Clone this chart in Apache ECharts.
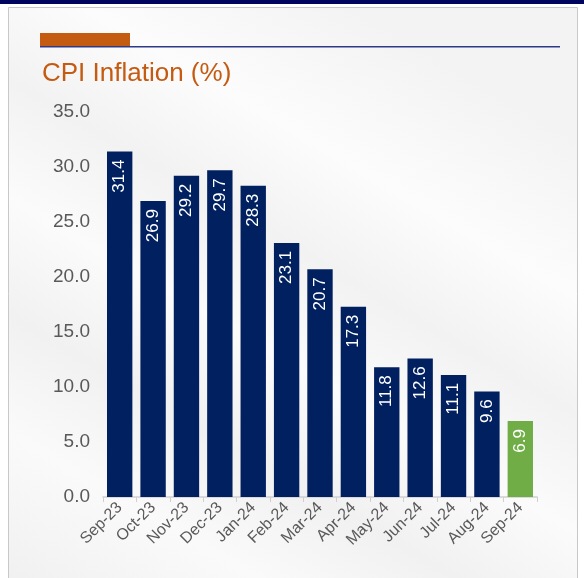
<!DOCTYPE html>
<html>
<head>
<meta charset="utf-8">
<script src="https://cdn.jsdelivr.net/npm/echarts@6/dist/echarts.min.js"></script>
<style>
  html, body { margin: 0; padding: 0; background: #fff; }
  #chart { width: 584px; height: 578px; }
</style>
</head>
<body>
<div id="chart"></div>
<script>
const months = ["Sep-23", "Oct-23", "Nov-23", "Dec-23", "Jan-24", "Feb-24", "Mar-24",
  "Apr-24", "May-24", "Jun-24", "Jul-24", "Aug-24", "Sep-24"];
const cpi = [31.4, 26.9, 29.2, 29.7, 28.3, 23.1, 20.7, 17.3, 11.8, 12.6, 11.1, 9.6, 6.9];
const yTicks = [0, 5, 10, 15, 20, 25, 30, 35];

const chart = echarts.init(document.getElementById("chart"));
const font = "Liberation Sans, Arial, sans-serif";

const option = {
  animation: false,
  backgroundColor: "#ffffff",
  graphic: [
    {
      type: "rect", z: -10, silent: true,
      shape: { x: 8.5, y: 7.5, width: 569, height: 580 },
      style: {
        fill: {
          type: "linear", x: 0, y: 1, x2: 0.6, y2: 0,
          colorStops: [
            { offset: 0, color: "#f0f0f0" },
            { offset: 0.2, color: "#fafafa" },
            { offset: 0.35, color: "#f1f1f1" },
            { offset: 0.5, color: "#fbfbfb" },
            { offset: 0.65, color: "#f2f2f2" },
            { offset: 0.8, color: "#fcfcfc" },
            { offset: 1, color: "#f3f3f3" }
          ]
        },
        stroke: "#c8c8c8", lineWidth: 1
      }
    },
    { type: "rect", silent: true, shape: { x: 0, y: 0, width: 584, height: 4 }, style: { fill: "#00045e" } },
    { type: "rect", silent: true, shape: { x: 40, y: 33, width: 90, height: 13 }, style: { fill: "#c55a11" } },
    { type: "rect", silent: true, shape: { x: 40, y: 46, width: 520, height: 1.5 }, style: { fill: "#2e3a87" } }
  ],
  title: {
    text: "CPI Inflation (%)",
    left: 37, top: 56,
    textStyle: { color: "#c55a11", fontFamily: font, fontSize: 26, fontWeight: "normal" }
  },
  grid: { left: 103, right: 47, top: 112, bottom: 81 },
  xAxis: {
    type: "category",
    data: months,
    axisLine: { lineStyle: { color: "#d0d0d0", width: 1.5 } },
    axisTick: { show: true, length: 5, lineStyle: { color: "#d0d0d0" } },
    axisLabel: { rotate: 45, color: "#595959", fontFamily: font, fontSize: 16, interval: 0, margin: 8 }
  },
  yAxis: {
    type: "value",
    min: yTicks[0], max: yTicks[yTicks.length - 1], interval: 5,
    axisLine: { show: false },
    axisTick: { show: false },
    splitLine: { show: false },
    axisLabel: {
      color: "#595959", fontFamily: font, fontSize: 19, margin: 13,
      formatter: function (v) { return v.toFixed(1); }
    }
  },
  series: [{
    type: "bar",
    data: cpi.map(function (v, i) {
      return { value: v, itemStyle: { color: i === cpi.length - 1 ? "#70ad47" : "#002060" } };
    }),
    barCategoryGap: "24%",
    label: {
      show: true,
      position: "insideTop",
      rotate: 90,
      align: "right",
      verticalAlign: "middle",
      distance: 8,
      color: "#ffffff",
      fontFamily: font,
      fontSize: 17,
      formatter: function (p) { return p.value.toFixed(1); }
    }
  }]
};
chart.setOption(option);
window.addEventListener("resize", function () {
  chart.resize();
});
</script>
</body>
</html>
